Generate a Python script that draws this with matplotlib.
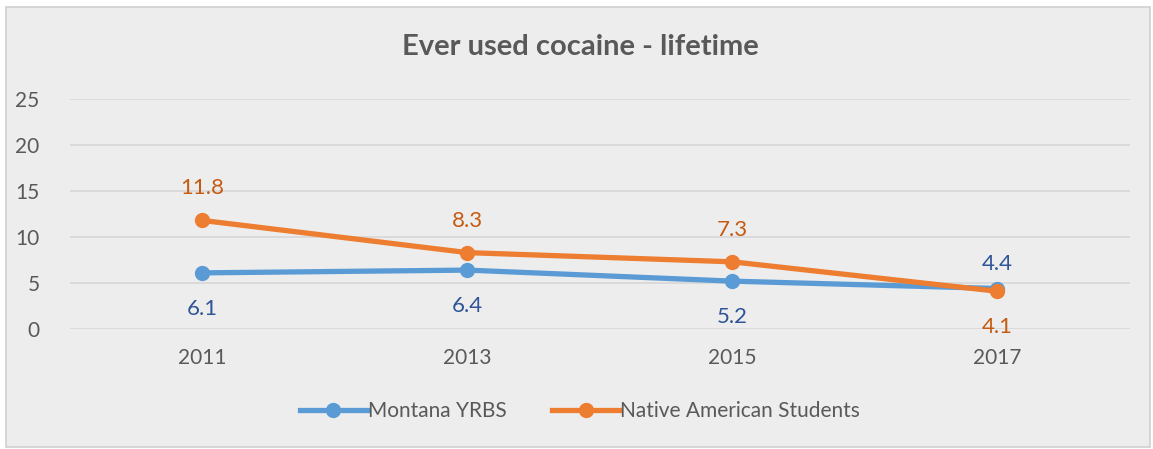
import matplotlib.pyplot as plt
from matplotlib.patches import Rectangle

plt.rcParams['font.family'] = ['Lato', 'DejaVu Sans']

years = ['2011', '2013', '2015', '2017']
montana = [6.1, 6.4, 5.2, 4.4]
native = [11.8, 8.3, 7.3, 4.1]
# offset of each data label in points (positive = above)
montana_off = [-26, -26, -26, 18]
native_off = [23, 23, 23, -26]

blue = '#5b9bd5'
orange = '#ed7d31'
blue_txt = '#2f5597'
orange_txt = '#c55a11'
grey = '#595959'
bg = '#ededed'

fig = plt.figure(figsize=(11.53, 4.49), dpi=100)
fig.patches.append(Rectangle((0.005, 0.004), 0.992, 0.98, transform=fig.transFigure,
                             facecolor=bg, edgecolor='#d0d0d0', linewidth=1.2, zorder=-5))
ax = fig.add_axes([0.0607, 0.2673, 0.9193, 0.5122])
ax.set_facecolor(bg)

x = [i + 0.5 for i in range(len(years))]
ax.plot(x, montana, color=blue, lw=3.8, marker='o', ms=10, label='Montana YRBS', zorder=3)
ax.plot(x, native, color=orange, lw=3.8, marker='o', ms=10, label='Native American Students', zorder=4)

for xi, v, o in zip(x, montana, montana_off):
    ax.annotate(f'{v}', (xi, v), xytext=(0, o), textcoords='offset points',
                ha='center', va='center', fontsize=16, color=blue_txt)
for xi, v, o in zip(x, native, native_off):
    ax.annotate(f'{v}', (xi, v), xytext=(0, o), textcoords='offset points',
                ha='center', va='center', fontsize=16, color=orange_txt)

ax.set_xlim(0, 4)
ax.set_ylim(0, 25)
ax.set_yticks(range(0, 30, 5))
ax.set_xticks(x)
ax.set_xticklabels(years)
ax.grid(axis='y', color='#d9d9d9', lw=1.3)
ax.set_axisbelow(True)
for s in ax.spines.values():
    s.set_visible(False)
ax.tick_params(length=0, labelsize=15, colors=grey)
ax.tick_params(axis='y', pad=22)
ax.tick_params(axis='x', pad=14)

fig.text(0.503, 0.895, 'Ever used cocaine - lifetime', ha='center', va='center',
         fontsize=21, fontweight='bold', color=grey)

leg = fig.legend(loc='center', bbox_to_anchor=(0.503, 0.085), ncol=2, frameon=False,
                 fontsize=15, handlelength=3.2, columnspacing=2.2, handletextpad=0.05)
for t in leg.get_texts():
    t.set_color(grey)

fig.savefig('out.png', dpi=100, facecolor='white')
